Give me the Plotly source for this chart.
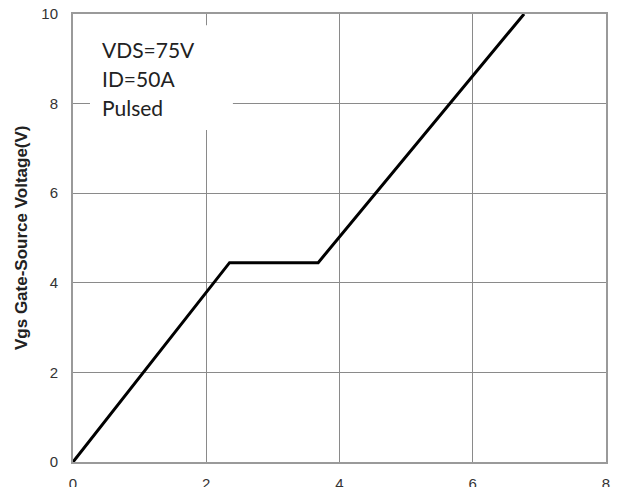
import plotly.graph_objects as go

# Gate charge curve (x: Qg, y: Vgs V)
qg = [0.0, 2.35, 3.68, 6.77]
vgs = [0.0, 4.45, 4.45, 10.0]

x_ticks = [0, 2, 4, 6, 8]
y_ticks = [0, 2, 4, 6, 8, 10]
note_lines = ["VDS=75V", "ID=50A", "Pulsed"]
note_y = [9.21, 8.55, 7.91]
y_title = "Vgs Gate-Source Voltage(V)"

fig = go.Figure()
fig.add_trace(go.Scatter(x=qg, y=vgs, mode="lines",
                         line=dict(color="black", width=3), showlegend=False,
                         hoverinfo="skip"))

# white box behind the note text (covers the gridlines)
fig.add_shape(type="rect", xref="x", yref="y", x0=0.255, x1=2.40, y0=7.41, y1=9.75,
              fillcolor="white", line=dict(width=0), layer="between")

for txt, yy in zip(note_lines, note_y):
    fig.add_annotation(x=0.40, y=yy, xref="x", yref="y", xanchor="left", yanchor="middle",
                       text=txt, showarrow=False, align="left",
                       font=dict(family="Lato, Open Sans, sans-serif", size=21, color="#222"))

fig.add_annotation(x=(21 - 73) / 533, y=0.5, xref="paper", yref="paper",
                   xanchor="center", yanchor="middle", text="<b>" + y_title + "</b>",
                   textangle=-90, showarrow=False,
                   font=dict(family="Liberation Sans, Arial, sans-serif", size=17, color="#222"))

axis_common = dict(showgrid=True, gridcolor="#8a8a8a", gridwidth=1, zeroline=False,
                   showline=True, linecolor="#9a9a9a", linewidth=2, mirror=True,
                   ticks="", tickfont=dict(family="Liberation Sans, Arial, sans-serif", size=15, color="#333"),
                   automargin=False)

fig.update_xaxes(range=[0, 8], tickvals=x_ticks, ticklabelstandoff=7, **axis_common)
fig.update_yaxes(range=[0, 10], tickvals=y_ticks, ticklabelstandoff=10, **axis_common)

fig.update_layout(width=625, height=487, margin=dict(l=73, r=19, t=14, b=25),
                  paper_bgcolor="white", plot_bgcolor="white")

fig.write_html("out.html", config={"displayModeBar": False},
               post_script="document.body.style.margin='0px';")
